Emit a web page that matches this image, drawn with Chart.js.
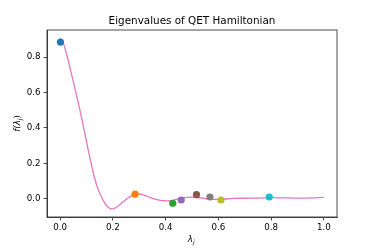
<!DOCTYPE html>
<html>
<head>
<meta charset="utf-8">
<script src="https://cdn.jsdelivr.net/npm/chart.js@4/dist/chart.umd.min.js"></script>
<style>
  html, body { margin: 0; padding: 0; background: #fff; }
  #wrap { width: 374px; height: 249px; }
</style>
</head>
<body>
<div id="wrap"><canvas id="chart" width="374" height="249"></canvas></div>
<script>
// curve f(lambda)
var curveX = [0.00, 0.01, 0.02, 0.03, 0.04, 0.05, 0.06, 0.07, 0.08, 0.09, 0.10, 0.11, 0.12, 0.13, 0.14, 0.15, 0.16, 0.17, 0.18, 0.19, 0.20, 0.21, 0.22, 0.24, 0.26, 0.28, 0.30, 0.32, 0.34, 0.36, 0.38, 0.40, 0.42, 0.44, 0.46, 0.48, 0.50, 0.52, 0.54, 0.56, 0.58, 0.60, 0.62, 0.64, 0.66, 0.70, 0.75, 0.80, 0.85, 0.90, 0.95, 1.00];
var curveY = [0.905, 0.885, 0.84, 0.785, 0.722, 0.66, 0.597, 0.532, 0.465, 0.395, 0.322, 0.25, 0.18, 0.12, 0.07, 0.032, 0.0, -0.026, -0.045, -0.056, -0.057, -0.051, -0.041, -0.016, 0.007, 0.023, 0.027, 0.019, 0.008, -0.002, -0.009, -0.012, -0.01, -0.003, 0.004, 0.008, 0.009, 0.007, 0.003, -0.001, -0.003, -0.004, -0.003, 0.0, 0.002, 0.003, 0.004, 0.006, 0.005, 0.004, 0.005, 0.008];

// eigenvalues (dots)
var eigX = [0.001, 0.284, 0.427, 0.459, 0.517, 0.568, 0.610, 0.793];
var eigY = [0.885, 0.026, -0.026, -0.007, 0.023, 0.010, -0.007, 0.010];
var eigColors = ['#1f77b4', '#ff7f0e', '#2ca02c', '#9467bd', '#8c564b', '#7f7f7f', '#bcbd22', '#17becf'];

var xTicks = [0.0, 0.2, 0.4, 0.6, 0.8, 1.0];
var yTicks = [0.0, 0.2, 0.4, 0.6, 0.8];

var curve = [];
for (var i = 0; i < curveX.length; i++) {
  curve.push({x: curveX[i], y: curveY[i]});
}

var datasets = [];
for (var k = 0; k < eigX.length; k++) {
  datasets.push({
    data: [{x: eigX[k], y: eigY[k]}],
    backgroundColor: eigColors[k],
    borderWidth: 0,
    pointRadius: 3.6,
    order: 1
  });
}
datasets.push({
  data: curve,
  showLine: true,
  borderColor: '#e377c2',
  borderWidth: 1.3,
  pointRadius: 0,
  tension: 0.4,
  order: 2
});

var textPlugin = {
  id: 'texts',
  afterDraw: function(chart) {
    var c = chart.ctx;
    var a = chart.chartArea;
    c.save();
    // frame
    c.strokeStyle = '#222';
    c.lineWidth = 0.8;
    c.strokeRect(a.left, a.top, a.right - a.left, a.bottom - a.top);
    c.fillStyle = '#000';
    // title
    c.font = '10.4px "DejaVu Sans"';
    c.textAlign = 'center';
    c.textBaseline = 'middle';
    c.fillText('Eigenvalues of QET Hamiltonian', (a.left + a.right) / 2, 21);
    // x label
    var cx = (a.left + a.right) / 2;
    c.font = 'italic 8.7px "DejaVu Sans"';
    c.textAlign = 'right';
    c.fillText('λ', cx + 1, 240);
    c.font = 'italic 6px "DejaVu Sans"';
    c.textAlign = 'left';
    c.fillText('j', cx + 1, 242.5);
    // y label
    c.translate(18, (a.top + a.bottom) / 2);
    c.rotate(-Math.PI / 2);
    c.font = 'italic 8.7px "DejaVu Sans"';
    c.textAlign = 'left';
    var s1 = 'f(λ';
    var w1 = c.measureText(s1).width;
    c.font = 'italic 6px "DejaVu Sans"';
    var w2 = c.measureText('j').width;
    c.font = '8.7px "DejaVu Sans"';
    var w3 = c.measureText(')').width;
    var x0 = -(w1 + w2 + w3) / 2;
    c.font = 'italic 8.7px "DejaVu Sans"';
    c.fillText(s1, x0, 0);
    c.font = 'italic 6px "DejaVu Sans"';
    c.fillText('j', x0 + w1, 2.5);
    c.font = '8.7px "DejaVu Sans"';
    c.fillText(')', x0 + w1 + w2, 0);
    c.restore();
  }
};

var ctx = document.getElementById('chart');
var chart = new Chart(ctx, {
  type: 'scatter',
  data: { datasets: datasets },
  options: {
    responsive: false,
    animation: false,
    layout: { padding: { left: 0, right: 37, top: 30, bottom: 0 } },
    plugins: { legend: { display: false }, tooltip: { enabled: false }, title: { display: false } },
    scales: {
      x: {
        type: 'linear',
        min: -0.05,
        max: 1.05,
        afterFit: function(scale) { scale.height = 32; },
        afterBuildTicks: function(scale) {
          scale.ticks = xTicks.map(function(v) { return {value: v}; });
        },
        ticks: {
          color: '#000',
          font: { family: 'DejaVu Sans', size: 8.7 },
          padding: 2,
          maxRotation: 0,
          callback: function(v) { return v.toFixed(1); }
        },
        grid: { drawOnChartArea: false, drawTicks: true, tickLength: 3.5, tickColor: '#222', tickWidth: 0.8 },
        border: { display: true, color: '#222', width: 0.8 }
      },
      y: {
        type: 'linear',
        min: -0.103,
        max: 0.953,
        afterFit: function(scale) { scale.width = 47; },
        afterBuildTicks: function(scale) {
          scale.ticks = yTicks.map(function(v) { return {value: v}; });
        },
        ticks: {
          color: '#000',
          font: { family: 'DejaVu Sans', size: 8.7 },
          padding: 3,
          callback: function(v) { return v.toFixed(1); }
        },
        grid: { drawOnChartArea: false, drawTicks: true, tickLength: 3.5, tickColor: '#222', tickWidth: 0.8 },
        border: { display: true, color: '#222', width: 0.8 }
      }
    }
  },
  plugins: [textPlugin]
});
</script>
</body>
</html>
